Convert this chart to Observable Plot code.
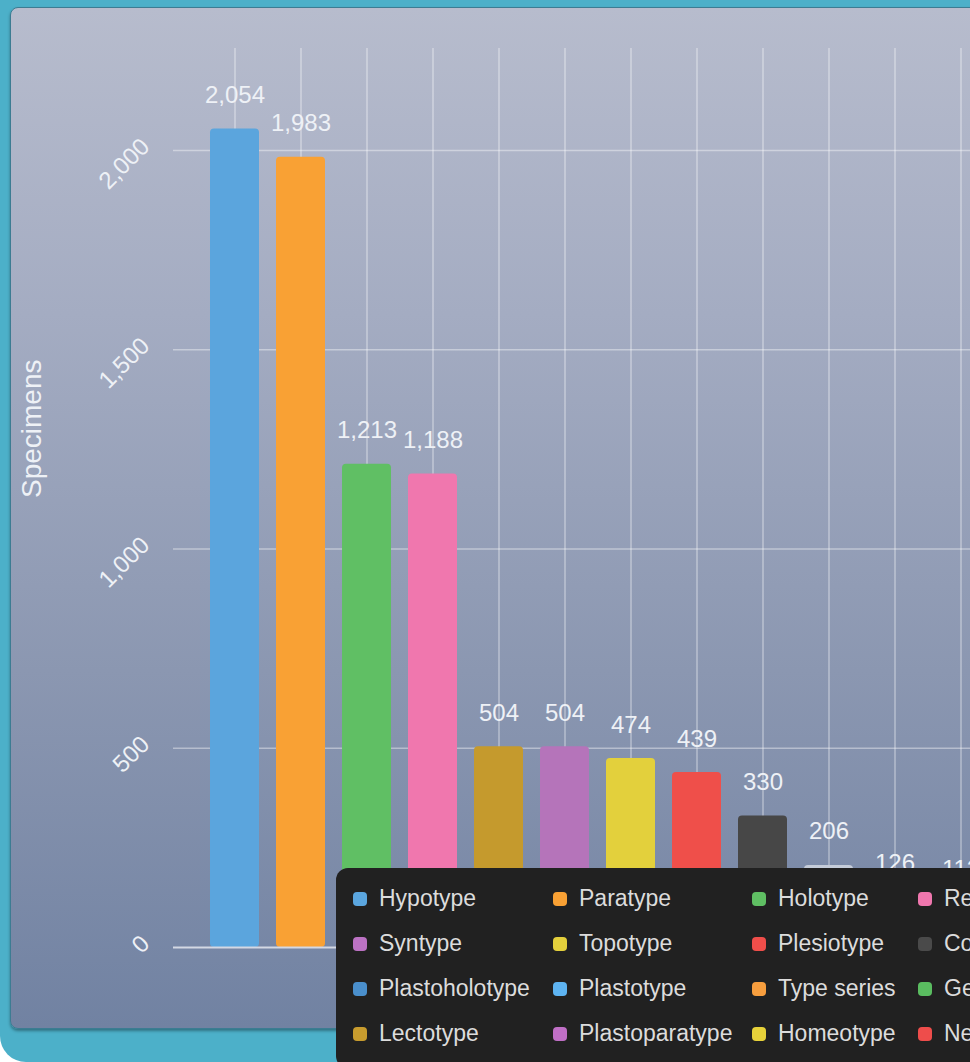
<!DOCTYPE html>
<html>
<head>
<meta charset="utf-8">
<script src="https://cdn.jsdelivr.net/npm/d3@7"></script>
<script src="https://cdn.jsdelivr.net/npm/@observablehq/plot@0.6"></script>
<style>
  html, body { margin: 0; padding: 0; width: 970px; height: 1062px; overflow: hidden; background: #ffffff; font-family: "Liberation Sans", Arial, sans-serif; }
  #frame { position: absolute; left: 0; top: 0; width: 1100px; height: 1062px; background: #4cb0c9; border-bottom-left-radius: 26px; }
  #panel { position: absolute; left: 10px; top: 7px; width: 1100px; height: 1020px; border-radius: 8px;
    background: linear-gradient(to bottom, #b7bccd 0%, #a4acc2 30%, #8b97b1 65%, #7182a2 100%);
    border: 1px solid #3c7c92; box-shadow: 0 2px 3px rgba(0,0,0,0.35); }
  #chart { position: absolute; left: 0; top: 0; width: 1032px; }
  #chart svg { max-width: none !important; width: 1032px !important; height: 1062px !important; }
  #legend { position: absolute; left: 336px; top: 868px; width: 1000px; height: 200px; background: #212121; border-radius: 12px;
    box-sizing: border-box; padding: 8px 0 0 17px; display: grid; grid-template-columns: 200px 199px 166px 200px 200px; grid-auto-rows: 45px; align-items: center; }
  .item { display: flex; align-items: center; white-space: nowrap; color: #dcdcdc; font-size: 23px; }
  .sw { width: 14px; height: 14px; border-radius: 4px; margin-right: 12px; flex: none; }
</style>
</head>
<body>
<div id="frame"></div>
<div id="panel"></div>
<div id="chart"></div>
<div id="legend"></div>
<script>
// Bars (sorted by value as in the picture)
const categories = ["Hypotype", "Paratype", "Holotype", "Referred", "Lectotype", "Syntype", "Topotype", "Plesiotype", "Cotype", "Allotype", "Isotype", "Paralectotype"];
const values = [2054, 1983, 1213, 1188, 504, 504, 474, 439, 330, 206, 126, 112];
const barColors = ["#5ba5dd", "#f9a134", "#60bf64", "#f077ae", "#c59a2d", "#b574ba", "#e3d03c", "#ef4f4a", "#474747", "#c5ccd9", "#8e8e8e", "#7cc8a8"];

// Legend (row by row, as shown)
const legendNames = [
  "Hypotype", "Paratype", "Holotype", "Referred", "Allotype",
  "Syntype", "Topotype", "Plesiotype", "Cotype", "Isotype",
  "Plastoholotype", "Plastotype", "Type series", "Genotype", "Paralectotype",
  "Lectotype", "Plastoparatype", "Homeotype", "Neotype", "Metatype"
];
const legendColors = [
  "#5ba6df", "#f9a134", "#5fbf63", "#f077ae", "#c5ccd9",
  "#bc72c4", "#e4d03c", "#ef4e4a", "#4a4a4a", "#8e8e8e",
  "#4a8fcc", "#5eb4f2", "#f79e3e", "#5abd60", "#7cc8a8",
  "#c89c2e", "#c06fc6", "#e7d23a", "#ee4d4b", "#e9a0c0"
];

const yTicks = [0, 500, 1000, 1500, 2000];
const yTitle = "Specimens";

const data = categories.map((c, i) => ({cat: c, val: values[i]}));
const fmt = d3.format(",");
const labelFill = "#eef1f6";

const chart = Plot.plot({
  width: 1032,
  height: 1062,
  marginLeft: 173,
  marginRight: 10,
  marginTop: 48,
  marginBottom: 115,
  style: {background: "transparent", fontFamily: "Liberation Sans, Arial, sans-serif", overflow: "visible"},
  x: {domain: categories, paddingInner: 0.26, paddingOuter: 0.535, axis: null},
  y: {domain: [0, 2256], axis: null},
  color: {domain: categories, range: barColors},
  marks: [
    Plot.gridY(yTicks.filter(d => d > 0), {stroke: "#ffffff", strokeOpacity: 0.4, strokeWidth: 1.5}),
    Plot.gridX(categories, {stroke: "#ffffff", strokeOpacity: 0.4, strokeWidth: 1.5}),
    Plot.barY(data, {x: "cat", y: "val", fill: "cat", rx: 4}),
    Plot.ruleY([0], {stroke: "#d3d8e3", strokeWidth: 2}),
    Plot.text(data, {x: "cat", y: "val", text: d => fmt(d.val), dy: -26, lineAnchor: "bottom", fill: labelFill, fontSize: 24}),
    Plot.text(yTicks, {y: d => d, text: d => fmt(d), frameAnchor: "left", dx: -28, dy: -8, rotate: -45, textAnchor: "end", fill: labelFill, fontSize: 24}),
    Plot.text([yTitle], {frameAnchor: "left", dx: -141, rotate: -90, fill: labelFill, fontSize: 28})
  ]
});
document.getElementById("chart").appendChild(chart);

const legend = document.getElementById("legend");
legendNames.forEach((n, i) => {
  const it = document.createElement("div");
  it.className = "item";
  const sw = document.createElement("span");
  sw.className = "sw";
  sw.style.background = legendColors[i];
  const tx = document.createElement("span");
  tx.textContent = n;
  it.appendChild(sw);
  it.appendChild(tx);
  legend.appendChild(it);
});
</script>
</body>
</html>
